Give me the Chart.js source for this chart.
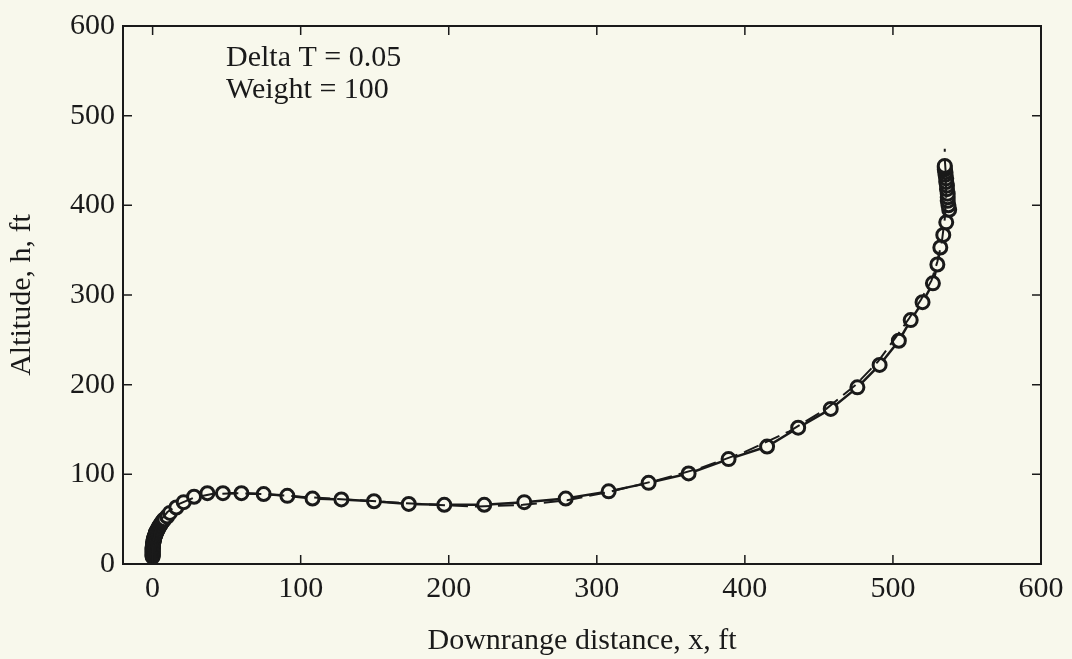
<!DOCTYPE html>
<html>
<head>
<meta charset="utf-8">
<script src="https://cdn.jsdelivr.net/npm/chart.js"></script>
<style>
  body { margin: 0; background: #f8f8ec; }
  #wrap { width: 1072px; height: 659px; }
</style>
</head>
<body>
<div id="wrap"><canvas id="trajectory" width="1072" height="659"></canvas></div>
<script>
// simulated trajectory, Delta T = 0.05 (circles + solid line)
var downrangeX = [0, 0, 0, 0, 0, 0, 0, 0, 0, 0, 0.1, 0.1, 0.2, 0.2, 0.3, 0.4, 0.5, 0.6, 0.7, 0.8,
  1, 1.1, 1.3, 1.5, 1.7, 1.9, 2.1, 2.3, 2.6, 2.9, 3.3, 3.7, 4.2, 4.7, 5.3, 5.9, 6.5, 7.2,
  8, 9.8, 11.7, 16, 21, 28, 37, 47.5, 60, 75, 91, 108,
  127.5, 149.5, 173, 197, 224, 251, 279, 308, 335, 362, 389, 415, 436, 458, 476, 491, 504, 512, 520, 527,
  530, 532, 534, 536, 538, 537.5, 537, 537, 537, 536.5, 536.5, 536, 536, 535.5, 535.5, 535, 535, 535];
var altitudeH = [8, 9, 10, 11, 12, 13, 14, 15, 16, 17, 18, 19, 20, 21, 22, 23, 24, 25, 26, 27,
  28, 29, 30, 31, 32, 33, 34, 35, 36, 37, 38, 39.5, 41, 42.5, 44, 45.5, 47, 48.5,
  50, 53, 57, 63, 69, 75, 79, 79, 79, 78, 76, 73,
  72, 70, 67, 66, 66, 69, 73, 81, 90.5, 101, 117, 131, 152, 173, 197, 222, 249, 272, 292, 313,
  334, 353, 367, 381, 395, 400, 405, 409, 413, 418, 422, 426, 430, 434, 437, 440, 442, 444];

// reference trajectory (dashed line)
var refX = [0, 0, 0.5, 2, 5, 10, 18, 28, 40, 55, 75, 100, 130, 160, 190, 220, 250, 280, 310, 340, 370, 400,
  430, 455, 475, 490, 502, 511, 519, 526, 530, 533, 535, 536, 535.5, 535, 535];
var refH = [0, 10, 25, 38, 48, 58, 67, 74, 78, 79, 78, 75, 72, 69, 66, 64, 66, 71, 81, 93, 107, 125,
  148, 173, 200, 226, 253, 274, 295, 316, 337, 359, 385, 411, 440, 452, 463];

var xTickValues = [0, 100, 200, 300, 400, 500, 600];
var yTickValues = [0, 100, 200, 300, 400, 500, 600];
var noteLines = ['Delta T = 0.05', 'Weight = 100'];

var bgColor = '#f8f8ec';
var ink = '#1a1a1a';

function toPoints(xs, ys) {
  return xs.map(function(x, i) { return { x: x, y: ys[i] }; });
}

var framePlugin = {
  id: 'frame',
  beforeDraw: function(chart) {
    var ctx = chart.ctx;
    ctx.save();
    ctx.fillStyle = bgColor;
    ctx.fillRect(0, 0, chart.width, chart.height);
    ctx.restore();
  },
  afterDraw: function(chart) {
    var ctx = chart.ctx;
    var a = chart.chartArea;
    var xs = chart.scales.x, ys = chart.scales.y;
    var len = 9;
    ctx.save();
    ctx.strokeStyle = ink;
    ctx.lineWidth = 2;
    ctx.strokeRect(a.left, a.top, a.right - a.left, a.bottom - a.top);
    ctx.lineWidth = 1.5;
    ctx.beginPath();
    xTickValues.forEach(function(v) {
      var p = xs.getPixelForValue(v);
      ctx.moveTo(p, a.bottom); ctx.lineTo(p, a.bottom - len);
      ctx.moveTo(p, a.top); ctx.lineTo(p, a.top + len);
    });
    yTickValues.forEach(function(v) {
      var p = ys.getPixelForValue(v);
      ctx.moveTo(a.left, p); ctx.lineTo(a.left + len, p);
      ctx.moveTo(a.right, p); ctx.lineTo(a.right - len, p);
    });
    ctx.stroke();

    // annotation text
    ctx.fillStyle = ink;
    ctx.font = "30px 'Liberation Serif', 'Times New Roman', serif";
    ctx.textAlign = 'left';
    ctx.textBaseline = 'alphabetic';
    ctx.fillText(noteLines[0], 226, 66);
    ctx.fillText(noteLines[1], 226, 98);
    ctx.restore();
  }
};

Chart.defaults.font.family = "'Liberation Serif', 'Times New Roman', serif";
Chart.defaults.font.size = 30;
Chart.defaults.color = ink;

var config = {
  type: 'scatter',
  data: {
    datasets: [{
      label: 'reference',
      data: toPoints(refX, refH),
      showLine: true,
      borderColor: ink,
      borderWidth: 2,
      borderDash: [16, 7],
      pointRadius: 0,
      tension: 0
    }, {
      label: 'Delta T = 0.05',
      data: toPoints(downrangeX, altitudeH),
      showLine: true,
      borderColor: ink,
      borderWidth: 2.5,
      pointRadius: 6.5,
      pointBorderWidth: 3,
      pointBorderColor: ink,
      pointBackgroundColor: bgColor,
      tension: 0
    }]
  },
  options: {
    responsive: false,
    animation: false,
    layout: { padding: { top: 25, right: 31, left: 0, bottom: 0 } },
    plugins: {
      legend: { display: false },
      tooltip: { enabled: false }
    },
    scales: {
      x: {
        type: 'linear',
        min: -20,
        max: 600,
        afterBuildTicks: function(scale) {
          scale.ticks = xTickValues.map(function(v) { return { value: v }; });
        },
        afterFit: function(scale) { scale.height = 95; },
        grid: { display: false, drawTicks: false },
        border: { display: false },
        ticks: { padding: 7, maxRotation: 0, color: ink },
        title: {
          display: true,
          text: 'Downrange distance, x, ft',
          font: { size: 30 },
          color: ink,
          padding: { top: 2, bottom: 0 }
        }
      },
      y: {
        type: 'linear',
        min: 0,
        max: 600,
        afterBuildTicks: function(scale) {
          scale.ticks = yTickValues.map(function(v) { return { value: v }; });
        },
        afterFit: function(scale) { scale.width = 123; },
        grid: { display: false, drawTicks: false },
        border: { display: false },
        ticks: { padding: 8, color: ink },
        title: {
          display: true,
          text: 'Altitude, h, ft',
          font: { size: 30 },
          color: ink,
          padding: { top: 4, bottom: 0 }
        }
      }
    }
  },
  plugins: [framePlugin]
};

var ctx = document.getElementById('trajectory').getContext('2d');
new Chart(ctx, config);
</script>
</body>
</html>
